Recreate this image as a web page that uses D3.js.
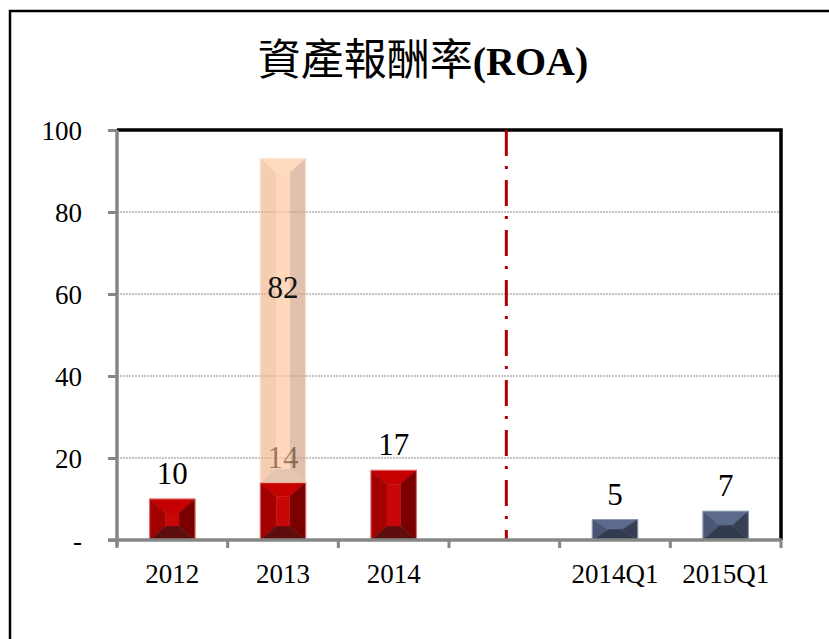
<!DOCTYPE html>
<html>
<head>
<meta charset="utf-8">
<script src="https://cdn.jsdelivr.net/npm/d3@7"></script>
<style>
  body { margin: 0; background: #fff; }
  svg { display: block; }
</style>
</head>
<body>
<svg id="chart"></svg>
<script>
const width = 829, height = 639;

// data
const categories = ["2012", "2013", "2014", "", "2014Q1", "2015Q1"];
const annualValues = [10, 14, 17, null, null, null];
const quarterValues = [null, null, null, null, 5, 7];
const stackBase = 14, stackTop = 93, stackLabel = 82; // orange bar on 2013
const yTicks = [0, 20, 40, 60, 80, 100];

const margin = {top: 130, right: 48, bottom: 99, left: 117};
const innerW = width - margin.left - margin.right;
const innerH = height - margin.top - margin.bottom;

const svg = d3.select("#chart").attr("width", width).attr("height", height);

// outer frame
svg.append("rect")
  .attr("x", 10).attr("y", 11)
  .attr("width", width).attr("height", height)
  .attr("fill", "none").attr("stroke", "#000").attr("stroke-width", 2.5);

// title
const title = svg.append("text")
  .attr("x", 423).attr("y", 75)
  .attr("text-anchor", "middle");
title.append("tspan")
  .attr("font-family", "'Noto Sans CJK TC', sans-serif")
  .attr("font-size", 43)
  .text("資產報酬率");
title.append("tspan")
  .attr("font-family", "'Liberation Serif', 'Times New Roman', serif")
  .attr("font-weight", "bold")
  .attr("font-size", 40)
  .text("(ROA)");

const g = svg.append("g").attr("transform", `translate(${margin.left},${margin.top})`);

const x = d3.scaleBand().domain(d3.range(categories.length)).range([0, innerW]).paddingInner(0).paddingOuter(0);
const y = d3.scaleLinear().domain([0, 100]).range([innerH, 0]);
const barW = x.bandwidth() * 0.41;

// gridlines
g.selectAll(".grid")
  .data(yTicks.filter(d => d > 0 && d < 100))
  .enter().append("line")
  .attr("x1", 0).attr("x2", innerW)
  .attr("y1", d => y(d)).attr("y2", d => y(d))
  .attr("stroke", "#c4c4c4").attr("stroke-width", 2)
  .attr("stroke-dasharray", "2,1");

// top and right border of plot
g.append("path")
  .attr("d", `M0,${y(100)}H${innerW}V${innerH}`)
  .attr("fill", "none").attr("stroke", "#000").attr("stroke-width", 3.5);

// bevelled bar
function bevelBar(sel, cx, v0, v1, faces, opacity) {
  const x0 = cx - barW / 2, x1 = cx + barW / 2;
  const yt = y(v1), yb = y(v0);
  const h = yb - yt;
  const bx = Math.min(16, barW / 2 - 2);
  const by = Math.min(14, h / 2);
  const ix0 = x0 + bx, ix1 = x1 - bx, iy0 = yt + by, iy1 = yb - by;
  const bar = sel.append("g").attr("opacity", opacity);
  const polys = [
    {pts: [[x0, yt], [x1, yt], [ix1, iy0], [ix0, iy0]], c: faces.top},
    {pts: [[x0, yt], [ix0, iy0], [ix0, iy1], [x0, yb]], c: faces.left},
    {pts: [[x1, yt], [x1, yb], [ix1, iy1], [ix1, iy0]], c: faces.right},
    {pts: [[x0, yb], [ix0, iy1], [ix1, iy1], [x1, yb]], c: faces.bottom},
    {pts: [[ix0, iy0], [ix1, iy0], [ix1, iy1], [ix0, iy1]], c: faces.front}
  ];
  bar.selectAll("polygon").data(polys).enter().append("polygon")
    .attr("points", d => d.pts.map(p => p.join(",")).join(" "))
    .attr("fill", d => d.c)
    .attr("stroke", d => d.c).attr("stroke-width", 0.5);
  bar.append("rect")
    .attr("x", x0).attr("y", yt).attr("width", barW).attr("height", h)
    .attr("fill", "none").attr("stroke", faces.edge).attr("stroke-width", 1);
}

const redFaces = {top: "#c40000", left: "#a30000", right: "#7a0000", bottom: "#5e0d0d", front: "#c80808", edge: "#e07070"};
const blueFaces = {top: "#5c6b8d", left: "#4a5673", right: "#373f55", bottom: "#323a4d", front: "#3a4258", edge: "#8a96b0"};
const orangeFaces = {top: "#ffc89e", left: "#f0b48c", right: "#d2a184", bottom: "#d8a888", front: "#ffc49a", edge: "#ffd6b8"};

const labelFont = "'Liberation Serif', 'Times New Roman', serif";

annualValues.forEach((v, i) => {
  if (v == null) return;
  bevelBar(g, x(i) + x.bandwidth() / 2, 0, v, redFaces, 1);
});
quarterValues.forEach((v, i) => {
  if (v == null) return;
  bevelBar(g, x(i) + x.bandwidth() / 2, 0, v, blueFaces, 1);
});

// value labels
const valueLabels = categories.map((c, i) => ({i, v: annualValues[i] != null ? annualValues[i] : quarterValues[i]}))
  .filter(d => d.v != null);
g.selectAll(".vlabel").data(valueLabels).enter().append("text")
  .attr("x", d => x(d.i) + x.bandwidth() / 2)
  .attr("y", d => y(d.v) - 15)
  .attr("text-anchor", "middle")
  .attr("font-family", labelFont).attr("font-size", 31)
  .attr("fill", "#000")
  .text(d => d.v);

// orange translucent segment on 2013
const i2013 = categories.indexOf("2013");
bevelBar(g, x(i2013) + x.bandwidth() / 2, stackBase, stackTop, orangeFaces, 0.66);
g.append("text")
  .attr("x", x(i2013) + x.bandwidth() / 2)
  .attr("y", y(stackBase + (stackTop - stackBase) * 0.6) + 10)
  .attr("text-anchor", "middle")
  .attr("font-family", labelFont).attr("font-size", 31)
  .attr("fill", "#111")
  .text(stackLabel);

// divider dash-dot line
const iGap = categories.indexOf("");
g.append("line")
  .attr("x1", x(iGap) + x.bandwidth() / 2 + 2).attr("x2", x(iGap) + x.bandwidth() / 2 + 2)
  .attr("y1", y(100)).attr("y2", innerH)
  .attr("stroke", "#b00000").attr("stroke-width", 3)
  .attr("stroke-dasharray", "26,10,3,11");

// y axis
const yAxis = g.append("g")
  .call(d3.axisLeft(y).tickValues(yTicks).tickSize(9).tickPadding(26)
    .tickFormat(d => d === 0 ? "-" : d));
yAxis.select(".domain").attr("stroke", "#868686").attr("stroke-width", 3.5)
  .attr("d", `M0,${y(100)}V${innerH + 6}`);
yAxis.selectAll(".tick line").attr("stroke", "#868686").attr("stroke-width", 3);
yAxis.selectAll(".tick text")
  .attr("font-family", labelFont).attr("font-size", 27).attr("fill", "#000")
  .attr("dy", "0.34em");

// x axis
const xAxis = g.append("g").attr("transform", `translate(0,${innerH})`);
xAxis.append("line")
  .attr("x1", -9).attr("x2", innerW + 1)
  .attr("stroke", "#868686").attr("stroke-width", 3.5);
xAxis.selectAll(".xtick")
  .data(d3.range(categories.length + 1))
  .enter().append("line")
  .attr("x1", d => d * x.bandwidth()).attr("x2", d => d * x.bandwidth())
  .attr("y1", 0).attr("y2", 8)
  .attr("stroke", "#868686").attr("stroke-width", 3);
xAxis.selectAll(".xlabel")
  .data(categories)
  .enter().append("text")
  .attr("x", (d, i) => x(i) + x.bandwidth() / 2)
  .attr("y", 43)
  .attr("text-anchor", "middle")
  .attr("font-family", labelFont).attr("font-size", 27).attr("fill", "#000")
  .text(d => d);
</script>
</body>
</html>
